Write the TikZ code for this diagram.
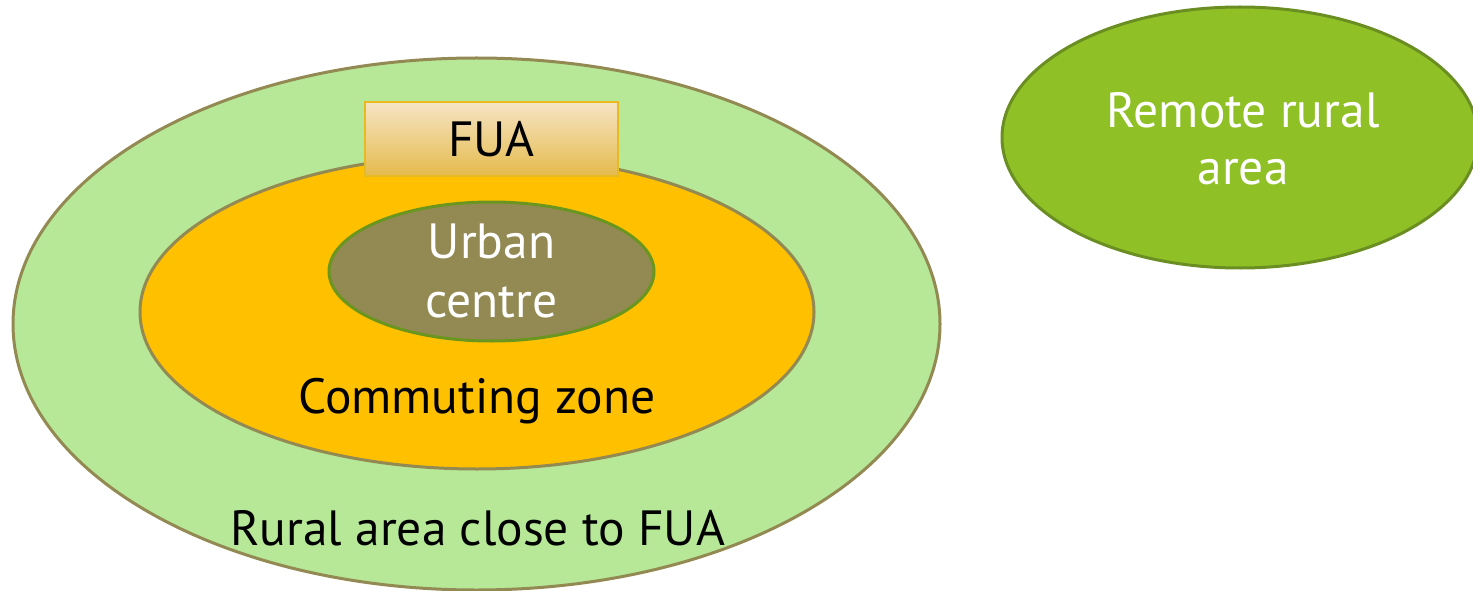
\documentclass[tikz,border=0pt]{standalone}
\usepackage{fontspec}
\setmainfont{PT Sans}
\usetikzlibrary{shapes.geometric}
\definecolor{outerfill}{HTML}{B6E898}
\definecolor{olivebd}{HTML}{938953}
\definecolor{commfill}{HTML}{FFC000}
\definecolor{urbfill}{HTML}{938953}
\definecolor{urbbd}{HTML}{6A961F}
\definecolor{remfill}{HTML}{8FC127}
\definecolor{rembd}{HTML}{6B8E23}
\definecolor{fuatop}{HTML}{F6E4C4}
\definecolor{fuabot}{HTML}{E5BB4D}
\definecolor{fuabd}{HTML}{E8BA22}
\tikzset{
  zone/.style={ellipse, line width=3pt, inner sep=0pt},
  lbl/.style={font=\fontsize{49.5}{57}\selectfont, align=center, inner sep=0pt},
}
\begin{document}
\begin{tikzpicture}[x=1pt,y=-1pt]
\useasboundingbox (0,0) rectangle (1473,591);
\clip (0,0) rectangle (1473,591);
\node[zone, draw=olivebd, fill=outerfill, minimum width=927pt, minimum height=532pt] (outer) at (476.5,324) {};
\node[zone, draw=olivebd, fill=commfill, minimum width=674pt, minimum height=314pt] (comm) at (477,312) {};
\node[zone, draw=urbbd, fill=urbfill, minimum width=325pt, minimum height=139pt] (urb) at (491.5,271.5) {};
\node[zone, draw=rembd, fill=remfill, minimum width=476pt, minimum height=261pt] (rem) at (1240,137.5) {};
\node[draw=fuabd, line width=1.5pt, top color=fuatop, bottom color=fuabot, minimum width=253pt, minimum height=74pt, inner sep=0pt] (fua) at (491.5,139) {};
\node[lbl, anchor=base] (fuat) at (491.5,157) {FUA};
\node[lbl, anchor=base, text=white] (urbt1) at (491.5,258) {Urban};
\node[lbl, anchor=base, text=white] (urbt2) at (491.5,317) {centre};
\node[lbl, anchor=base] (commt) at (477,413) {Commuting zone};
\node[lbl, anchor=base] (outt) at (478,545) {Rural area close to FUA};
\node[lbl, anchor=base, text=white] (remt1) at (1243,128) {Remote rural};
\node[lbl, anchor=base, text=white] (remt2) at (1243,185) {area};
\end{tikzpicture}
\end{document}
